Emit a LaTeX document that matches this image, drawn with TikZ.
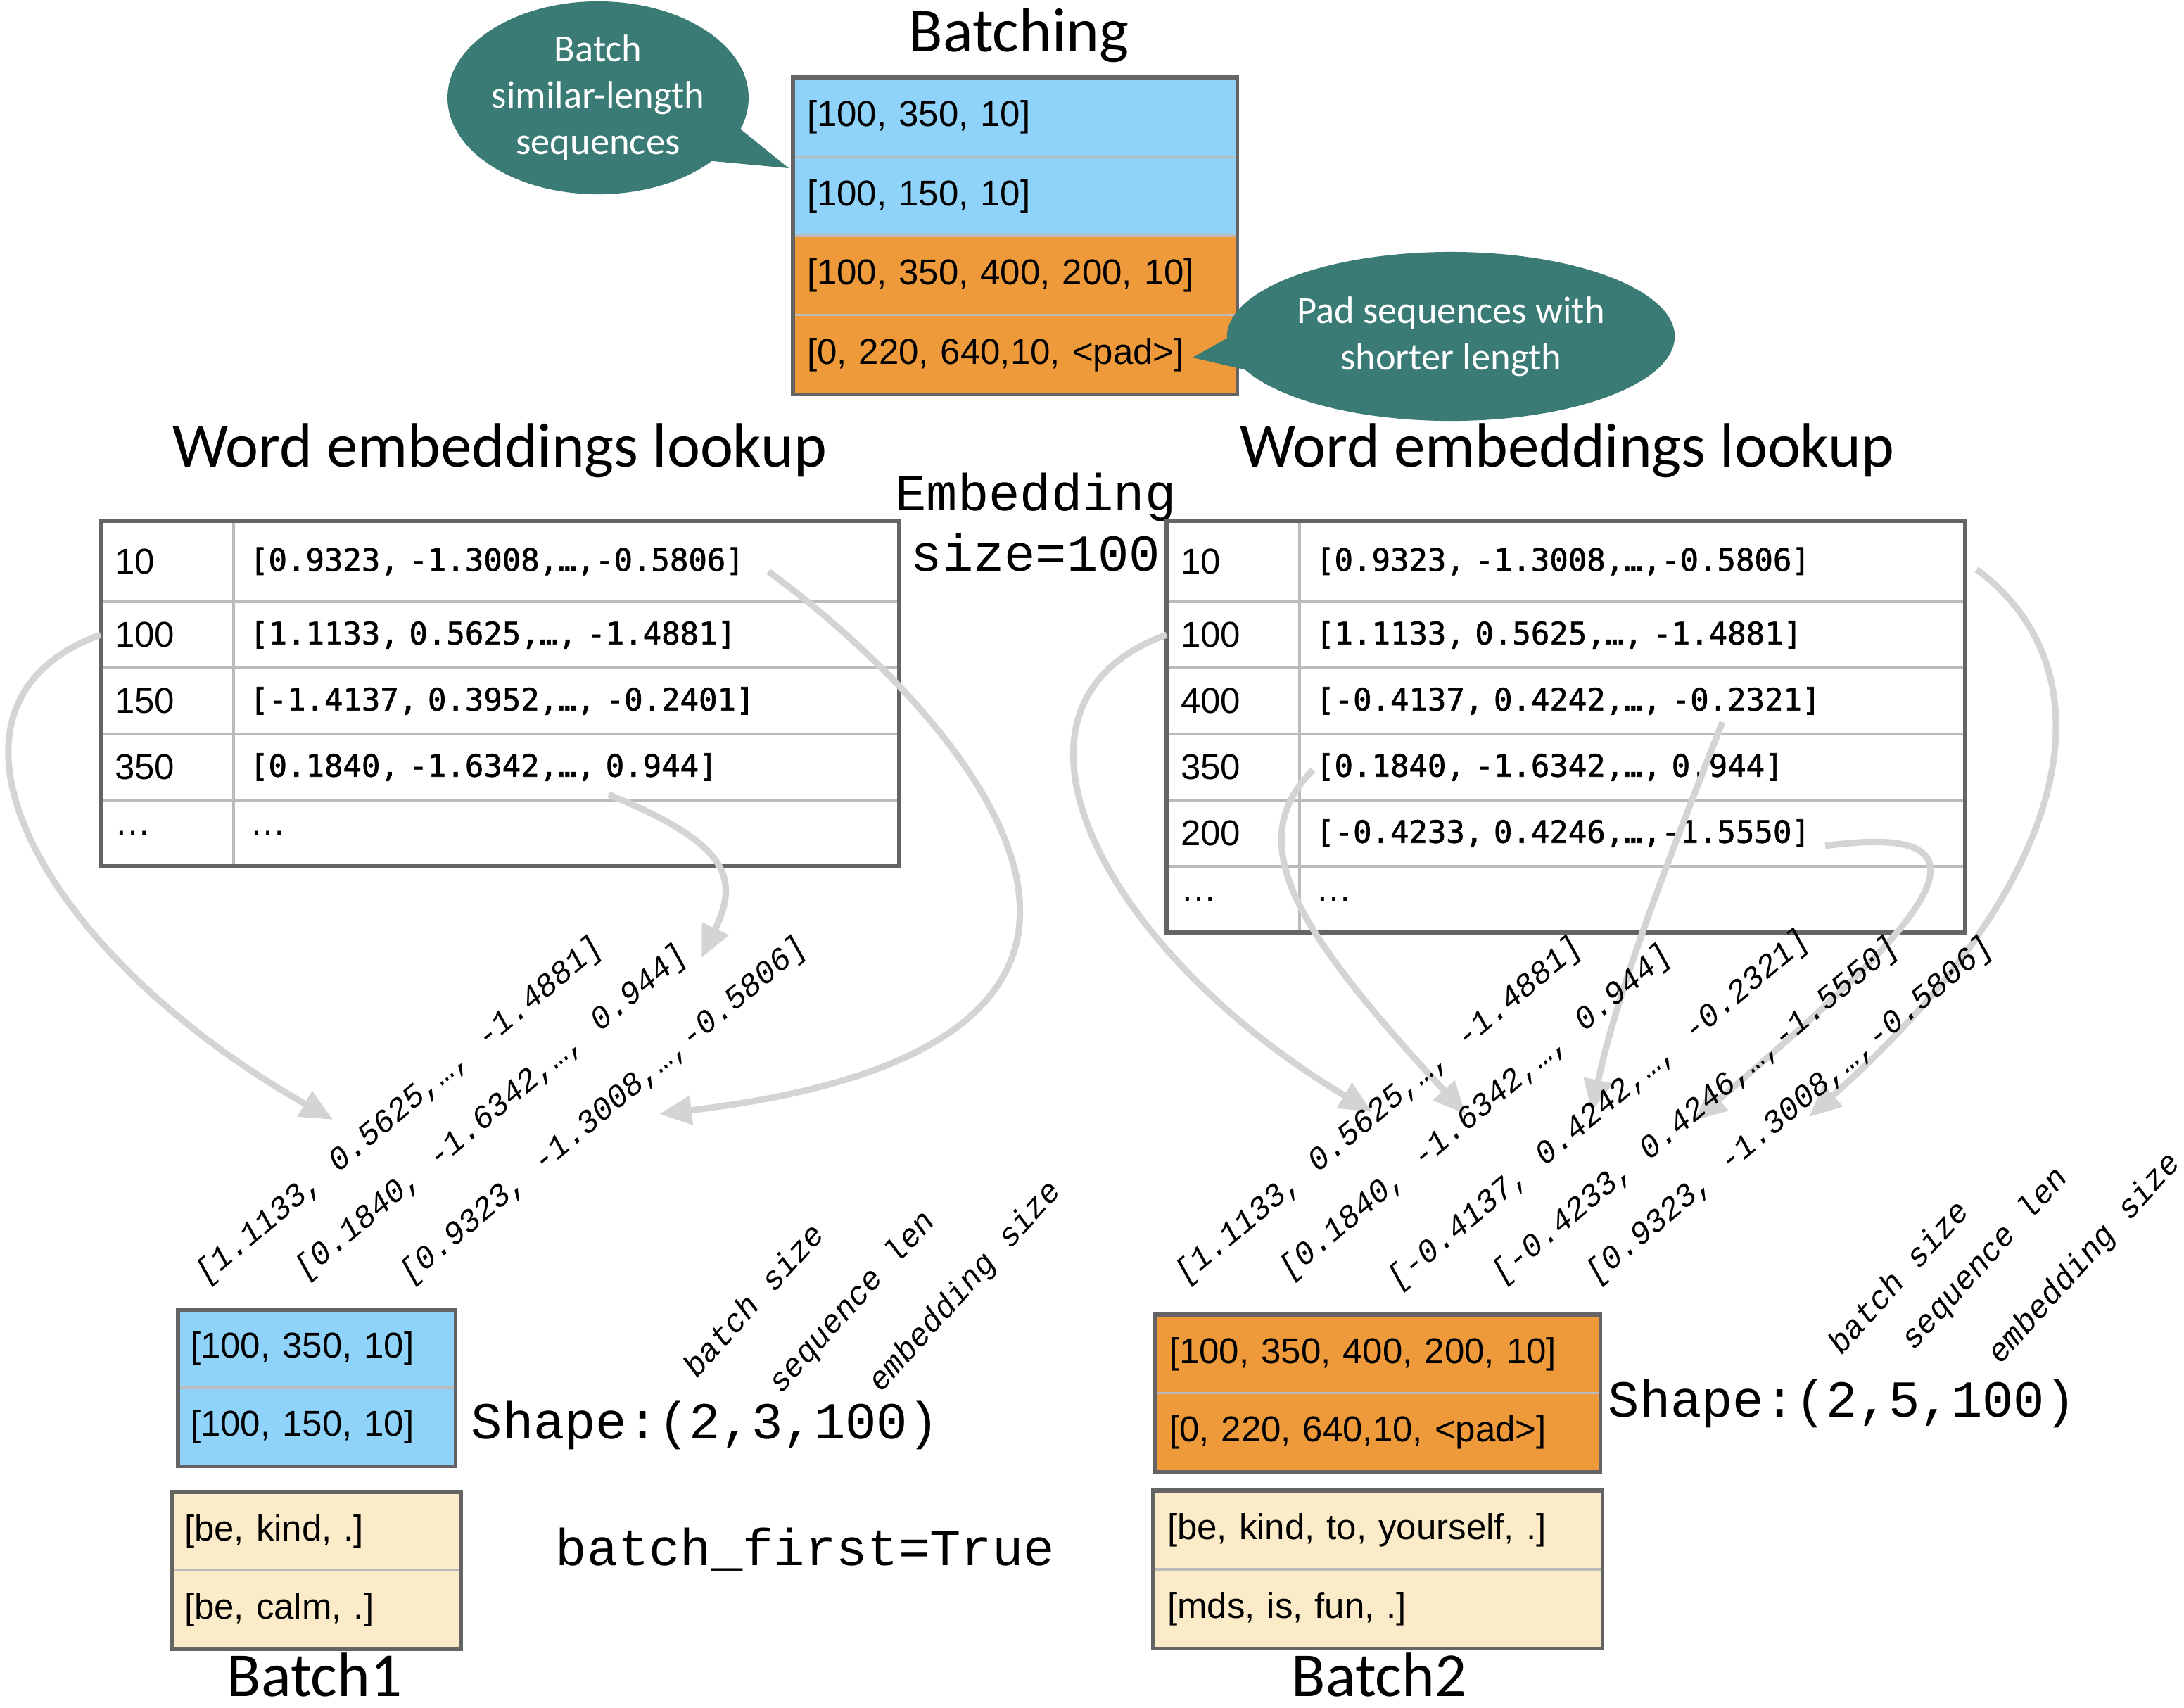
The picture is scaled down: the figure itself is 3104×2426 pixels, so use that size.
\documentclass[tikz,border=0pt]{standalone}
\usepackage{fontspec}
\setmainfont{Liberation Sans}
\setmonofont{Liberation Mono}
\newfontfamily\gillfont{Carlito}
\newfontfamily\vecfont[FakeBold=1.5]{DejaVu Sans Mono}
\newcommand\cellfont{\normalfont\fontsize{14.5}{17}\selectfont}
\usetikzlibrary{arrows.meta, positioning, shapes.callouts}

\definecolor{skyfill}{RGB}{143,211,250}
\definecolor{orangefill}{RGB}{238,154,58}
\definecolor{creamfill}{RGB}{252,235,200}
\definecolor{tealfill}{RGB}{58,123,117}
\definecolor{linkgray}{RGB}{212,212,212}
\definecolor{framegray}{RGB}{100,100,100}
\definecolor{sepgray}{RGB}{187,187,187}

\tikzset{
  rowcell/.style={draw=sepgray, line width=1pt, anchor=north west, align=left,
    inner xsep=0.2cm, inner ysep=0pt, outer sep=0pt, font=\cellfont},
  frame/.style={draw=framegray, line width=1.5pt},
  title/.style={font=\gillfont\fontsize{25.3}{29}\selectfont, anchor=base, inner sep=0pt, text depth=0pt},
  bubble/.style={ellipse callout, fill=tealfill, text=white, align=center, callout pointer arc=22,
    inner sep=0pt, font=\gillfont\fontsize{15.5}{18.8}\selectfont},
  keycell/.style={rowcell, text width=1.49cm},
  veccell/.style={rowcell, text width=8.99cm, inner xsep=0.23cm, font=\vecfont\fontsize{12.5}{15}\selectfont},
  veclab/.style={font=\ttfamily\itshape\fontsize{13}{15}\selectfont, rotate=40, anchor=base west, inner sep=0pt},
  dimlab/.style={font=\ttfamily\itshape\fontsize{13}{15}\selectfont, rotate=48, anchor=base west, inner sep=0pt},
  bigmono/.style={font=\ttfamily\fontsize{21}{24.5}\selectfont, inner sep=0pt},
  fetch/.style={draw=linkgray, line width=2.6pt, -{Triangle[length=0.46cm, width=0.40cm]}}
}

\begin{document}
\begin{tikzpicture}[x=0.01cm, y=-0.01cm]
\useasboundingbox (0,0) rectangle (3104,2426);
\fill[white] (0,0) rectangle (3104,2426);

% batching table
\node[title] (tBatching) at (1448,73) {Batching};
\node[rowcell, fill=skyfill, text width=5.91cm, minimum height=1.125cm] (bt1) at (1127,110) {[100, 350, 10]};
\node[rowcell, fill=skyfill, text width=5.91cm, minimum height=1.125cm, below=0pt of bt1] (bt2) {[100, 150, 10]};
\node[rowcell, fill=orangefill, text width=5.91cm, minimum height=1.125cm, below=0pt of bt2] (bt3) {[100, 350, 400, 200, 10]};
\node[rowcell, fill=orangefill, text width=5.91cm, minimum height=1.125cm, below=0pt of bt3] (bt4) {[0, 220, 640,10, <pad>]};
\draw[frame] (bt1.north west) rectangle (bt4.south east);

\node[bubble, minimum width=4.14cm, minimum height=2.74cm, callout absolute pointer={(1121,239)}] (callBatch) at (850,139) {Batch\\similar-length\\sequences};
\node[bubble, minimum width=6.36cm, minimum height=2.40cm, callout absolute pointer={(1695,508)}] (callPad) at (2062,478) {Pad sequences with\\shorter length};

% lookup tables
\node[title] (tLookA) at (710,663) {Word embeddings lookup};
\node[title] (tLookB) at (2227,663) {Word embeddings lookup};
\node[bigmono, align=center] (embSize) at (1472,742) {Embedding\\size=100};

\foreach \k/\v [count=\i] in {10/{[0.9323, -1.3008,…,-0.5806]}, 100/{[1.1133, 0.5625,…, -1.4881]},
    150/{[-1.4137, 0.3952,…, -0.2401]}, 350/{[0.1840, -1.6342,…, 0.944]}, \ldots/{\cellfont\ldots}}{
  \pgfmathsetmacro\ytop{740+(\i>1)*(115+94*(\i-2))}
  \pgfmathsetmacro\rh{\i>1 ? 0.94 : 1.15}
  \node[keycell, minimum height=\rh cm] (lkA-k\i) at (143,\ytop) {\k};
  \node[veccell, minimum height=\rh cm, right=0pt of lkA-k\i] (lkA-v\i) {\v};
}
\draw[frame] (lkA-k1.north west) rectangle (lkA-v5.south east);

\foreach \k/\v [count=\i] in {10/{[0.9323, -1.3008,…,-0.5806]}, 100/{[1.1133, 0.5625,…, -1.4881]},
    400/{[-0.4137, 0.4242,…, -0.2321]}, 350/{[0.1840, -1.6342,…, 0.944]},
    200/{[-0.4233, 0.4246,…,-1.5550]}, \ldots/{\cellfont\ldots}}{
  \pgfmathsetmacro\ytop{740+(\i>1)*(115+94*(\i-2))}
  \pgfmathsetmacro\rh{\i>1 ? 0.94 : 1.15}
  \node[keycell, minimum height=\rh cm] (lkB-k\i) at (1658,\ytop) {\k};
  \node[veccell, minimum height=\rh cm, right=0pt of lkB-k\i] (lkB-v\i) {\v};
}
\draw[frame] (lkB-k1.north west) rectangle (lkB-v6.south east);

% lookups
\coordinate (srcA1) at (1092,812);
\coordinate (srcA3) at (865,1129);
\coordinate (srcB2) at (1866,1094);
\coordinate (srcB3) at (2448,1026);
\coordinate (srcB4) at (2594,1202);
\coordinate (srcB5) at (2809,809);
\coordinate (tipA1) at (473,1591);
\coordinate (tipA2) at (937,1583);
\coordinate (tipA3) at (997,1361);
\coordinate (tipB1) at (1950,1580);
\coordinate (tipB2) at (2083,1583);
\coordinate (tipB3) at (2262,1580);
\coordinate (tipB4) at (2408,1592);
\coordinate (tipB5) at (2571,1587);

\draw[fetch] (lkA-k2.west) .. controls (-130,1000) and (50,1350) .. (tipA1);
\draw[fetch] (srcA1) .. controls (1350,1000) and (1800,1480) .. (tipA2);
\draw[fetch] (srcA3) .. controls (1040,1200) and (1050,1250) .. (tipA3);
\draw[fetch] (lkB-k2.west) .. controls (1385,1000) and (1565,1350) .. (tipB1);
\draw[fetch] (srcB2) .. controls (1760,1200) and (1850,1330) .. (tipB2);
\draw[fetch] (srcB3) .. controls (2380,1200) and (2300,1400) .. (tipB3);
\draw[fetch] (srcB4) .. controls (2900,1160) and (2680,1360) .. (tipB4);
\draw[fetch] (srcB5) .. controls (3000,950) and (2960,1240) .. (tipB5);

\node[veclab] (vA1) at (292,1826) {[1.1133, 0.5625,…, -1.4881]};
\node[veclab] (vA2) at (433,1820) {[0.1840, -1.6342,…, 0.944]};
\node[veclab] (vA3) at (582,1826) {[0.9323, -1.3008,…,-0.5806]};
\node[veclab] (vB1) at (1684,1826) {[1.1133, 0.5625,…, -1.4881]};
\node[veclab] (vB2) at (1832,1820) {[0.1840, -1.6342,…, 0.944]};
\node[veclab] (vB3) at (1986,1834) {[-0.4137, 0.4242,…, -0.2321]};
\node[veclab] (vB4) at (2134,1826) {[-0.4233, 0.4246,…,-1.5550]};
\node[veclab] (vB5) at (2268,1826) {[0.9323, -1.3008,…,-0.5806]};

% batch 1
\node[rowcell, fill=skyfill, text width=3.58cm, inner xsep=0.18cm, minimum height=1.11cm] (eb1a) at (253,1861) {[100, 350, 10]};
\node[rowcell, fill=skyfill, text width=3.58cm, inner xsep=0.18cm, minimum height=1.11cm, below=0pt of eb1a] (eb1b) {[100, 150, 10]};
\draw[frame] (eb1a.north west) rectangle (eb1b.south east);
\node[rowcell, fill=creamfill, text width=3.76cm, inner xsep=0.17cm, minimum height=1.115cm] (wb1a) at (245,2120) {[be, kind, .]};
\node[rowcell, fill=creamfill, text width=3.76cm, inner xsep=0.17cm, minimum height=1.115cm, below=0pt of wb1a] (wb1b) {[be, calm, .]};
\draw[frame] (wb1a.north west) rectangle (wb1b.south east);
\node[title] (tB1) at (447,2410) {Batch1};
\node[bigmono, anchor=base west] (shapeA) at (669,2044) {Shape:(2,3,100)};
\node[bigmono, anchor=base west] (bfirst) at (789,2224) {batch\_first=True};
\node[dimlab] (dA1) at (990,1960) {batch size};
\node[dimlab] (dA2) at (1110,1982) {sequence len};
\node[dimlab] (dA3) at (1252,1980) {embedding size};

% batch 2
\node[rowcell, fill=orangefill, text width=5.92cm, minimum height=1.115cm] (eb2a) at (1642,1868) {[100, 350, 400, 200, 10]};
\node[rowcell, fill=orangefill, text width=5.92cm, minimum height=1.115cm, below=0pt of eb2a] (eb2b) {[0, 220, 640,10, <pad>]};
\draw[frame] (eb2a.north west) rectangle (eb2b.south east);
\node[rowcell, fill=creamfill, text width=5.98cm, minimum height=1.12cm] (wb2a) at (1639,2118) {[be, kind, to, yourself, .]};
\node[rowcell, fill=creamfill, text width=5.98cm, minimum height=1.12cm, below=0pt of wb2a] (wb2b) {[mds, is, fun, .]};
\draw[frame] (wb2a.north west) rectangle (wb2b.south east);
\node[title] (tB2) at (1960,2410) {Batch2};
\node[bigmono, anchor=base west] (shapeB) at (2285,2013) {Shape:(2,5,100)};
\node[dimlab] (dB1) at (2617,1927) {batch size};
\node[dimlab] (dB2) at (2720,1920) {sequence len};
\node[dimlab] (dB3) at (2843,1940) {embedding size};
\end{tikzpicture}
\end{document}
